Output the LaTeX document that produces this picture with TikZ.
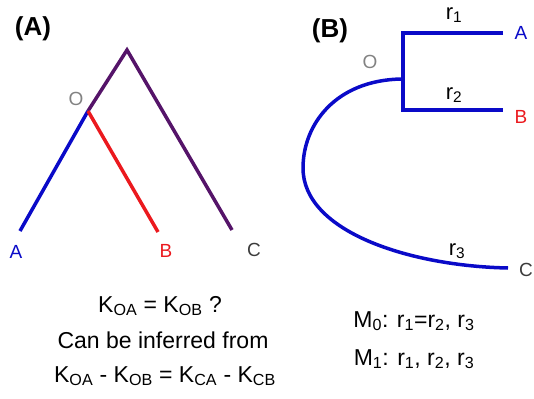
\documentclass[tikz,border=0pt]{standalone}
\usepackage{fontspec}
\setmainfont{Liberation Sans}
\definecolor{treeblue}{RGB}{10,10,200}
\definecolor{treered}{RGB}{235,25,30}
\definecolor{treepurple}{RGB}{85,20,105}
\definecolor{nodegray}{RGB}{130,130,130}
\definecolor{leafgray}{RGB}{60,60,60}
\newcommand{\ksub}[1]{K\textsubscript{#1}}
\begin{document}
\begin{tikzpicture}[x=1pt,y=-1pt,
	branch/.style={line width=3.5pt},
	leaf/.style={font=\fontsize{19}{22}\selectfont, inner sep=0pt},
	rate/.style={font=\fontsize{22}{26}\selectfont, inner sep=0pt},
	panel/.style={font=\fontsize{26}{30}\selectfont\bfseries, inner sep=0pt},
	eqn/.style={font=\fontsize{23}{27}\selectfont, anchor=base, inner sep=0pt}]
\useasboundingbox (0,0) rectangle (534,398);
% (A) rooted tree
\node[panel] (labA) at (33,29) {(A)};
\coordinate (rootA) at (127,50);
\coordinate (OA) at (88,111);
\coordinate (endA) at (20,231);
\coordinate (endB) at (158,232);
\coordinate (endC) at (232,230);
\draw[branch, treepurple] (OA) -- (rootA) -- (endC);
\draw[branch, treeblue] (OA) -- (endA);
\draw[branch, treered] (OA) -- (endB);
\node[leaf, nodegray] (oA) at (76,99) {O};
\node[leaf, treeblue] (leafA) at (16,252) {A};
\node[leaf, treered] (leafB) at (166,251) {B};
\node[leaf, leafgray] (leafC) at (254,250) {C};
\node[eqn] (q) at (160,312) {\ksub{OA} = \ksub{OB} ?};
\node[eqn] (inf) at (163,348) {Can be inferred from};
\node[eqn] (diff) at (165,382) {\ksub{OA} - \ksub{OB} = \ksub{CA} - \ksub{CB}};
% (B) unrooted tree
\node[panel] (labB) at (330,31) {(B)};
\coordinate (top) at (403,33);
\coordinate (bot) at (403,110);
\coordinate (tipA) at (503,33);
\coordinate (tipB) at (503,110);
\coordinate (start) at (402,79);
\coordinate (tipC) at (508,268);
\draw[branch, treeblue] (tipA) -- (top) -- (bot) -- (tipB);
\draw[branch, treeblue] (start) .. controls (335,80) and (303,125) .. (303,168)
	.. controls (303,232) and (410,266) .. (tipC);
\node[leaf, nodegray] (oB) at (370,62) {O};
\node[leaf, treeblue] (rA) at (521,33) {A};
\node[leaf, treered] (rB) at (521,117) {B};
\node[leaf, leafgray] (rC) at (526,270) {C};
\node[rate] (r1) at (454,15) {r\textsubscript{1}};
\node[rate] (r2) at (454,95) {r\textsubscript{2}};
\node[rate] (r3) at (457,251) {r\textsubscript{3}};
\node[eqn] (m0) at (414,327) {M\textsubscript{0}: r\textsubscript{1}=r\textsubscript{2}, r\textsubscript{3}};
\node[eqn] (m1) at (414,365) {M\textsubscript{1}: r\textsubscript{1}, r\textsubscript{2}, r\textsubscript{3}};
\end{tikzpicture}
\end{document}
